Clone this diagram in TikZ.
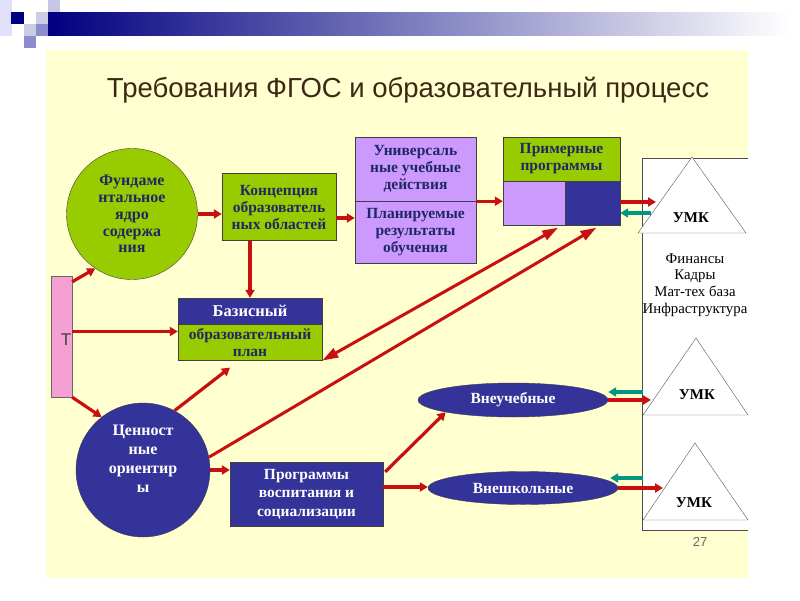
\documentclass[tikz,border=0pt]{standalone}
\usepackage{fontspec}
\setmainfont{Liberation Serif}
\setsansfont{Liberation Sans}
\usetikzlibrary{arrows.meta, positioning, calc, shapes.geometric}

\definecolor{bgyellow}{RGB}{255,255,208}
\definecolor{boxgreen}{RGB}{153,204,0}
\definecolor{boxpurple}{RGB}{204,153,255}
\definecolor{boxnavy}{RGB}{51,51,153}
\definecolor{boxpink}{RGB}{245,160,210}
\definecolor{txtnavy}{RGB}{30,40,100}
\definecolor{titlebrown}{RGB}{60,40,20}
\definecolor{arrred}{RGB}{200,16,16}
\definecolor{arrteal}{RGB}{0,150,130}
\definecolor{bandnavy}{RGB}{0,0,128}

\tikzset{
  box/.style={draw=black!75, thin, inner sep=0pt, align=center,
    font=\bfseries\fontsize{15.5}{17}\selectfont, text=txtnavy},
  greenbox/.style={box, fill=boxgreen},
  purplebox/.style={box, fill=boxpurple},
  navybox/.style={box, fill=boxnavy, text=white},
  navyoval/.style={navybox, ellipse},
  redarr/.style={draw=arrred, line width=3.2pt, -{Triangle[length=8pt,width=9pt]}},
  tealarr/.style={draw=arrteal, line width=3.2pt, -{Triangle[length=8pt,width=9pt]}},
  longarr/.style={draw=arrred, line width=3pt, -{Triangle[length=16pt,width=10pt]}},
  tri/.style={draw=black!65, fill=white, thin},
  umk/.style={font=\bfseries\fontsize{15}{18}\selectfont}
}

\begin{document}
\begin{tikzpicture}[x=1pt, y=-1pt]
  \useasboundingbox (0,0) rectangle (800,600);
  % Slide background
  \fill[bgyellow] (46,50) rectangle (748,578);
  \shade[left color=bandnavy, right color=white] (48,12) rectangle (790,35);
  \fill[black!12!blue!12] (0,0) rectangle (12,36);
  \fill[bandnavy] (11,12) rectangle (24,24);
  \fill[blue!50!black!20] (36,12) rectangle (48,24);
  \fill[blue!50!black!22] (48,0) rectangle (60,12);
  \fill[blue!50!black!20] (24,24) rectangle (36,36);
  \fill[blue!60!black!45] (36,24) rectangle (48,36);
  \fill[blue!60!black!45] (24,36) rectangle (36,48);
  \node[font=\sffamily\fontsize{27.5}{32}\selectfont, text=titlebrown] (title) at (408,90)
    {Требования ФГОС и образовательный процесс};

  % Right panel with UMK triangles
  \fill[white] (642,158) rectangle (748,530);
  \draw[black!70, thin] (748,158) -- (642,158) -- (642,530) -- (748,530);
  \draw[tri] (692,157) -- (746,233) -- (638,233) -- cycle;
  \draw[tri] (696,338) -- (748,415) -- (643,415) -- cycle;
  \draw[tri] (695,443) -- (748,520) -- (643,520) -- cycle;
  \node[umk] (umkA) at (691,218) {УМК};
  \node[umk] (umkB) at (697,395) {УМК};
  \node[umk] (umkC) at (694,503) {УМК};
  \node[align=center, font=\fontsize{14.8}{16.8}\selectfont] (res) at (695,285)
    {Финансы\\Кадры\\Мат-тех база\\Инфраструктура};
  \coordinate (umkAin) at (656,202);
  \coordinate (umkAout) at (651,213);
  \coordinate (umkBin) at (651,401);
  \coordinate (umkBout) at (643,392);
  \coordinate (umkCin) at (663,488);
  \coordinate (umkCout) at (643,478);
  \node[font=\sffamily\fontsize{13}{15}\selectfont, text=black!60] (pgnum) at (700,542) {27};

  % Blocks
  \node[greenbox, circle, minimum size=131pt, font=\bfseries\fontsize{16}{16.8}\selectfont] (fund) at (132,214)
    {Фундаме\\нтальное\\ядро\\содержа\\ния};
  \node[greenbox, minimum width=114pt, minimum height=67pt] (konc) at (279,207)
    {Концепция\\образователь\\ных областей};
  \node[purplebox, minimum width=121pt, minimum height=64pt] (uud) at (415.5,169)
    {Универсаль\\ные учебные\\действия};
  \node[purplebox, minimum width=121pt, minimum height=62pt, below=0pt of uud] (plan)
    {Планируемые\\результаты\\обучения};
  \node[greenbox, minimum width=117pt, minimum height=44pt] (prim) at (561.5,159)
    {Примерные\\программы};
  \node[purplebox, minimum width=62pt, minimum height=44pt, anchor=north west] (primL) at (prim.south west) {};
  \node[navybox, minimum width=55pt, minimum height=44pt, anchor=north east] (primR) at (prim.south east) {};
  \node[draw=black!60, thin, fill=boxpink, minimum width=21pt, minimum height=121pt, inner sep=0pt] (tbar) at (61.5,336.5) {};
  \node[font=\sffamily\fontsize{17}{20}\selectfont, text=black!75] (tlet) at (66,340) {T};
  \node[navybox, minimum width=144pt, minimum height=26pt, font=\bfseries\fontsize{16.5}{18}\selectfont] (baz) at (250,311)
    {Базисный};
  \node[greenbox, minimum width=144pt, minimum height=36pt, below=0pt of baz, font=\bfseries\fontsize{15.5}{17}\selectfont] (bazplan)
    {образовательный\\план};
  \node[navybox, circle, minimum size=134pt] (cenn) at (143,470) {};
  \node[align=center, text=white, font=\bfseries\fontsize{16}{19}\selectfont] (cenntxt) at (143,459)
    {Ценност\\ные\\ориентир\\ы};
  \node[navybox, minimum width=153pt, minimum height=64pt, font=\bfseries\fontsize{15.5}{18.5}\selectfont] (prog) at (306.5,494)
    {Программы\\воспитания и\\социализации};
  \node[navyoval, minimum width=190pt, minimum height=34pt] (vneuch) at (513,400) {Внеучебные};
  \node[navyoval, minimum width=190pt, minimum height=33pt] (vnesh) at (523,488) {Внешкольные};

  % Connectors
  \draw[redarr] (fund.east) -- (fund.east -| konc.west);
  \draw[redarr] ([yshift=-11pt]konc.east) -- ([yshift=-11pt]konc.east -| plan.west);
  \draw[redarr] (plan.north east) -- (plan.north east -| primL.west);
  \draw[redarr] (baz.north |- konc.south) -- (baz.north);
  \draw[redarr] ([yshift=-6pt]tbar.north east) -- (fund.236);
  \draw[redarr] ([yshift=5pt]tbar.east) -- ([yshift=5pt]tbar.east -| bazplan.west);
  \draw[redarr] (tbar.south east) -- (cenn.128);
  \draw[redarr] (cenn.62) -- ($(bazplan.south)+(-20,7)$);
  \draw[redarr] (cenn.east) -- (cenn.east -| prog.west);
  \draw[redarr] ($(prog.north east)+(2,10)$) -- (vneuch.south west);
  \draw[redarr] ([yshift=7pt]prog.east) -- ([yshift=7pt]prog.east -| vnesh.west);
  \draw[longarr, {Triangle[length=16pt,width=10pt]}-{Triangle[length=16pt,width=10pt]}] ($(primL.south east)+(-7,2)$) -- (bazplan.south east);
  \draw[longarr] (cenn.11) -- ($(primR.south)+(4,2)$);
  \draw[redarr] (primR.east |- umkAin) -- (umkAin);
  \draw[tealarr] (umkAout) -- (umkAout -| primR.east);
  \draw[redarr] (vneuch.east) -- (vneuch.east -| umkBin);
  \draw[tealarr] (umkBout) -- (umkBout -| vneuch.east);
  \draw[redarr] (vnesh.east) -- (umkCin);
  \draw[tealarr] (umkCout) -- ([xshift=-8pt]umkCout -| vnesh.east);
\end{tikzpicture}
\end{document}
